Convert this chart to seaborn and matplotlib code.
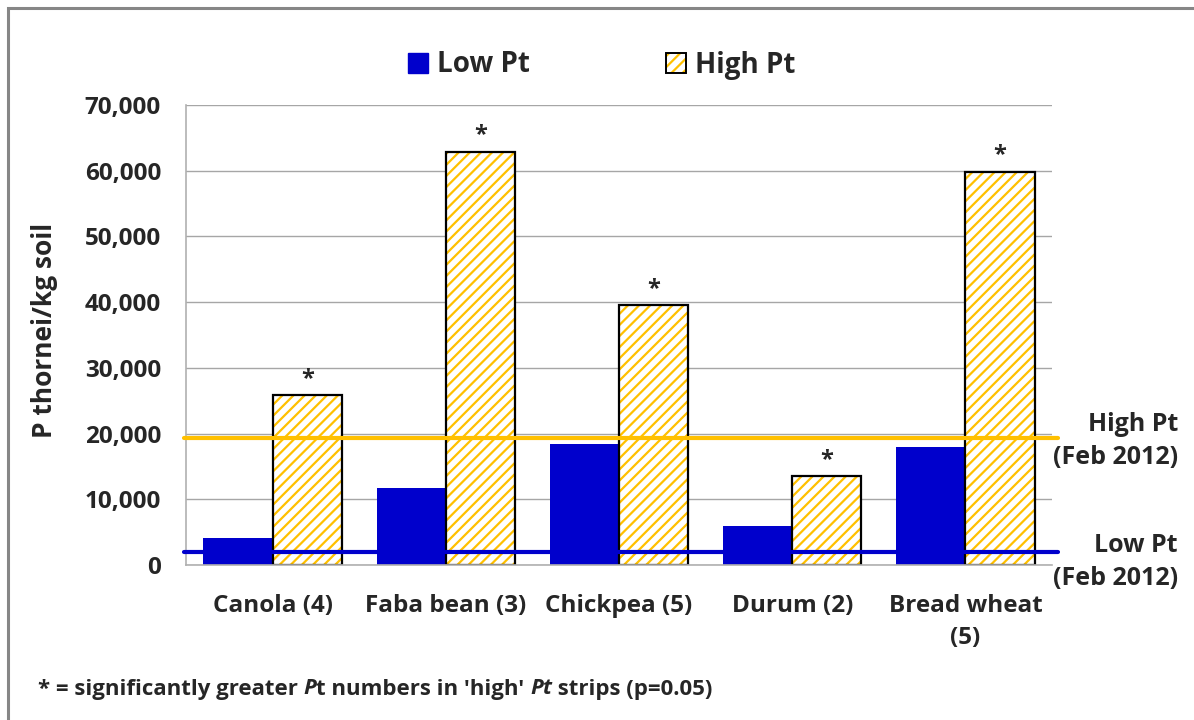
import matplotlib
matplotlib.use("Agg")
import matplotlib.pyplot as plt
import numpy as np
import pandas as pd
import seaborn as sns
from matplotlib.patches import Patch, Rectangle
from matplotlib.legend_handler import HandlerTuple

# Data
CROPS = ["Canola (4)", "Faba bean (3)", "Chickpea (5)", "Durum (2)", "Bread wheat\n(5)"]
LOW_PT = [4100, 11700, 18400, 5900, 17900]
HIGH_PT = [25800, 62900, 39500, 13500, 59800]
SIGNIFICANT = [True, True, True, True, True]
FEB_HIGH = 19400
FEB_LOW = 2000

BLUE = "#0000CC"
GOLD = "#FFC000"
GRID = "#A6A6A6"


def main() -> None:
    sns.set_theme(style="white")
    plt.rcParams["font.family"] = ["Open Sans", "DejaVu Sans"]
    plt.rcParams["font.weight"] = "bold"
    plt.rcParams["hatch.linewidth"] = 1.6

    df = pd.DataFrame({
        "crop": CROPS * 2,
        "level": ["Low Pt"] * len(CROPS) + ["High Pt"] * len(CROPS),
        "value": LOW_PT + HIGH_PT,
    })

    fig = plt.figure(figsize=(11.94, 7.2), dpi=100)
    ax = fig.add_axes([186 / 1194, 1 - 565 / 720, (1052 - 186) / 1194, (565 - 105) / 720])

    sns.barplot(
        data=df, x="crop", y="value", hue="level",
        hue_order=["Low Pt", "High Pt"],
        palette={"Low Pt": BLUE, "High Pt": "white"},
        width=0.8, saturation=1, legend=False, ax=ax,
        linewidth=0,
    )

    # hatched high bars: yellow hatch, black outline drawn separately
    for p in ax.containers[1]:
        p.set_facecolor("white")
        p.set_edgecolor(GOLD)
        p.set_hatch("///")
        p.set_linewidth(0)
        ax.add_patch(Rectangle((p.get_x(), p.get_y()), p.get_width(), p.get_height(),
                               fill=False, edgecolor="black", lw=1.6,
                               zorder=p.get_zorder() + 0.1))

    # significance asterisks
    for p, sig in zip(ax.containers[1], SIGNIFICANT):
        if sig:
            ax.text(p.get_x() + p.get_width() / 2, p.get_height() + 700, "*",
                    ha="center", va="bottom", fontsize=17, fontweight="bold")

    # Feb 2012 reference lines
    ax.axhline(FEB_HIGH, xmin=-0.002, xmax=1.007, color=GOLD, lw=3, zorder=5, clip_on=False)
    ax.axhline(FEB_LOW, xmin=-0.002, xmax=1.007, color=BLUE, lw=3, zorder=5, clip_on=False)

    ax.set_xlim(-0.5, len(CROPS) - 0.5)
    ax.set_ylim(0, 70000)
    ax.set_yticks(np.arange(0, 70001, 10000))
    ax.yaxis.set_major_formatter(matplotlib.ticker.FuncFormatter(lambda v, _: f"{v:,.0f}"))
    ax.set_axisbelow(True)
    ax.grid(axis="y", color=GRID, lw=1)

    for s in ["top", "right"]:
        ax.spines[s].set_visible(False)
    for s in ["left", "bottom"]:
        ax.spines[s].set_color("#B0B0B0")
        ax.spines[s].set_linewidth(1.2)

    ax.tick_params(axis="y", length=0, pad=18, labelsize=17.5)
    ax.tick_params(axis="x", which="major", length=0, pad=21, labelsize=17.5)
    ax.set_xticks(np.arange(-0.5, len(CROPS)), minor=True)
    ax.tick_params(axis="x", which="minor", direction="in", length=6, color="#B0B0B0", width=1)
    for lbl in ax.get_xticklabels():
        lbl.set_fontweight("bold")
        lbl.set_linespacing(1.45)
        lbl.set_verticalalignment("top")
    for lbl in ax.get_yticklabels():
        lbl.set_fontweight("bold")

    ax.set_xlabel("")
    ax.set_ylabel("P thornei/kg soil", fontsize=19, fontweight="bold")
    ax.yaxis.set_label_coords(-0.148, 0.51)

    # right-hand labels for the reference lines
    fig.text(1178 / 1194, 1 - 441 / 720, "High Pt\n(Feb 2012)", ha="right", va="center",
             fontsize=18, fontweight="bold", linespacing=1.42)
    fig.text(1178 / 1194, 1 - 562 / 720, "Low Pt\n(Feb 2012)", ha="right", va="center",
             fontsize=18, fontweight="bold", linespacing=1.42)

    # legend
    handles = [
        Patch(facecolor=BLUE, edgecolor=BLUE),
        (Patch(facecolor="white", edgecolor=GOLD, hatch="///", lw=0),
         Patch(facecolor="none", edgecolor="black", lw=1.4)),
    ]
    fig.legend(handles, ["Low Pt", "High Pt"], loc="center",
               bbox_to_anchor=(602 / 1194, 1 - 65 / 720), ncol=2, frameon=False,
               prop={"size": 20, "weight": "bold"}, handlelength=0.7, handleheight=0.7,
               handletextpad=0.35, columnspacing=4.9,
               handler_map={tuple: HandlerTuple(ndivide=1, pad=0)})

    # footnote with mixed italics
    pieces = [("* = significantly greater ", "normal"), ("P", "italic"),
              ("t numbers in 'high' ", "normal"), ("Pt", "italic"),
              (" strips (p=0.05)", "normal")]
    fig.canvas.draw()
    renderer = fig.canvas.get_renderer()
    x = 38 / 1194
    y = 1 - 689 / 720
    for txt, style in pieces:
        t = fig.text(x, y, txt, ha="left", va="center", fontsize=16,
                     fontweight="bold", fontstyle=style)
        bb = t.get_window_extent(renderer)
        x = bb.x1 / fig.bbox.width

    # outer chart frame (top and left visible)
    fig.add_artist(Rectangle((8 / 1194, -0.05), 1.1, 1 - 8 / 720 + 0.05,
                             transform=fig.transFigure, fill=False,
                             edgecolor="#868686", lw=2.2))

    fig.savefig("out.png", dpi=100)


if __name__ == "__main__":
    main()
